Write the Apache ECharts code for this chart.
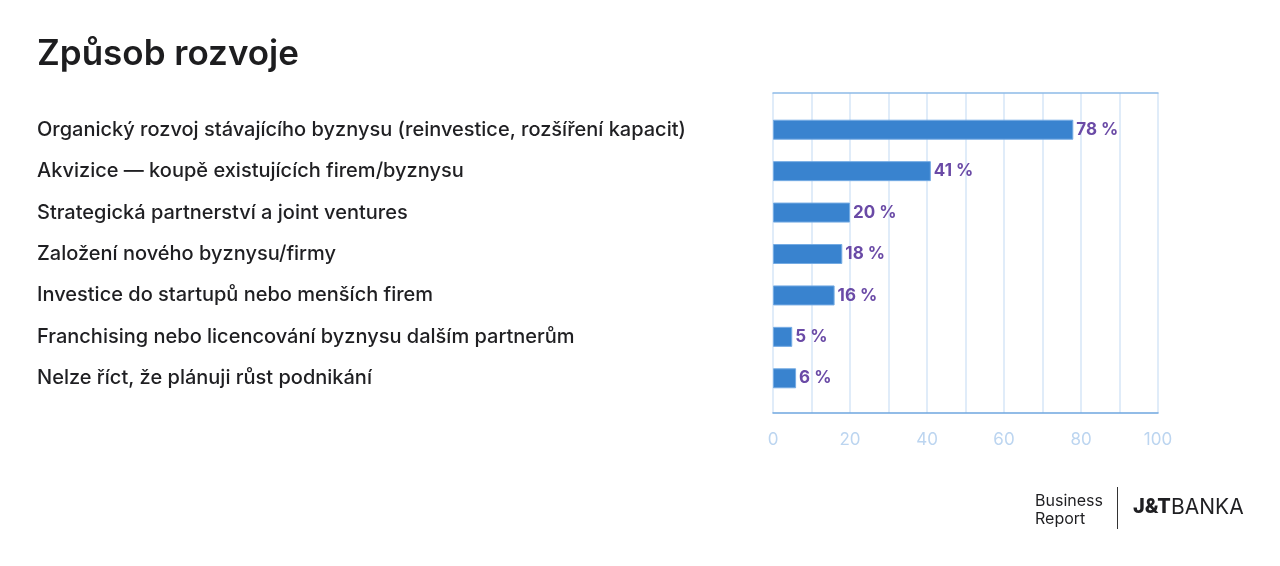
<!DOCTYPE html>
<html lang="cs">
<head>
  <meta charset="UTF-8">
  <title>Způsob rozvoje</title>
  <script src="https://cdn.jsdelivr.net/npm/echarts@6/dist/echarts.min.js"></script>
  <style>
    html, body { margin: 0; padding: 0; background: #fff; }
    #chart { width: 1280px; height: 566px; }
  </style>
</head>
<body>
  <div id="chart"></div>
  <script>
    // data
    var categories = [
      'Organický rozvoj stávajícího byznysu (reinvestice, rozšíření kapacit)',
      'Akvizice — koupě existujících firem/byznysu',
      'Strategická partnerství a joint ventures',
      'Založení nového byznysu/firmy',
      'Investice do startupů nebo menších firem',
      'Franchising nebo licencování byznysu dalším partnerům',
      'Nelze říct, že plánuji růst podnikání'
    ];
    var values = [78, 41, 20, 18, 16, 5, 6];
    var axisTicks = [0, 20, 40, 60, 80, 100];

    var chart = echarts.init(document.getElementById('chart'));
    var font = 'Inter, "Noto Sans", sans-serif';

    var option = {
      backgroundColor: '#fff',
      animation: false,
      title: {
        text: 'Způsob rozvoje',
        left: 32, top: 32,
        textStyle: { fontFamily: font, fontSize: 35, fontWeight: 600, color: '#1d1d1f' }
      },
      grid: [
        // frame grid: light grid lines, top and bottom rules, tick labels
        { left: 773, top: 93, width: 385, height: 320 },
        // bar grid
        { left: 773, top: 109, width: 385, height: 290 }
      ],
      xAxis: [
        {
          gridIndex: 0, type: 'value', min: 0, max: 100, interval: 10,
          axisLine: { show: true, lineStyle: { color: '#6fa6df', width: 1.5 } },
          axisTick: { show: false },
          splitLine: { show: true, lineStyle: { color: '#d6e6f7', width: 1.5 } },
          axisLabel: {
            margin: 18,
            color: '#bcd5f0', fontFamily: font, fontSize: 17,
            formatter: function (v) { return axisTicks.indexOf(v) >= 0 ? String(v) : ''; }
          }
        },
        {
          gridIndex: 0, type: 'value', position: 'top', min: 0, max: 100,
          axisLine: { show: true, lineStyle: { color: '#8dbbe8', width: 1.5 } },
          axisTick: { show: false }, axisLabel: { show: false }, splitLine: { show: false }
        },
        {
          gridIndex: 1, type: 'value', min: 0, max: 100, show: false
        }
      ],
      yAxis: [
        { gridIndex: 0, type: 'category', data: [''], show: false },
        {
          gridIndex: 1, type: 'category', inverse: true, data: categories,
          axisLine: { show: false }, axisTick: { show: false },
          axisLabel: {
            align: 'left', margin: 736,
            color: '#1f1f22', fontFamily: font, fontSize: 20, fontWeight: 500
          }
        }
      ],
      series: [{
        type: 'bar',
        xAxisIndex: 2, yAxisIndex: 1,
        data: values,
        barWidth: 20,
        itemStyle: { color: '#3983cf', borderColor: '#74abe3', borderWidth: 1 },
        label: {
          show: true, position: 'right', distance: 3,
          formatter: '{c} %',
          color: '#6a4aa6', fontFamily: font, fontSize: 17, fontWeight: 700
        }
      }],
      graphic: [
        { type: 'text', left: 1035, top: 492,
          style: { text: 'Business\nReport', fill: '#1f1f22', font: '400 16px ' + font, lineHeight: 18 } },
        { type: 'rect', left: 1117, top: 487, shape: { width: 1, height: 42 }, style: { fill: '#333' } },
        { type: 'text', left: 1133, top: 497,
          style: { text: 'J&T', fill: '#1f1f22', font: '800 20px ' + font } },
        { type: 'text', left: 1171, top: 497,
          style: { text: 'BANKA', fill: '#1f1f22', font: '400 21px ' + font } }
      ]
    };

    chart.setOption(option);
  </script>
</body>
</html>
